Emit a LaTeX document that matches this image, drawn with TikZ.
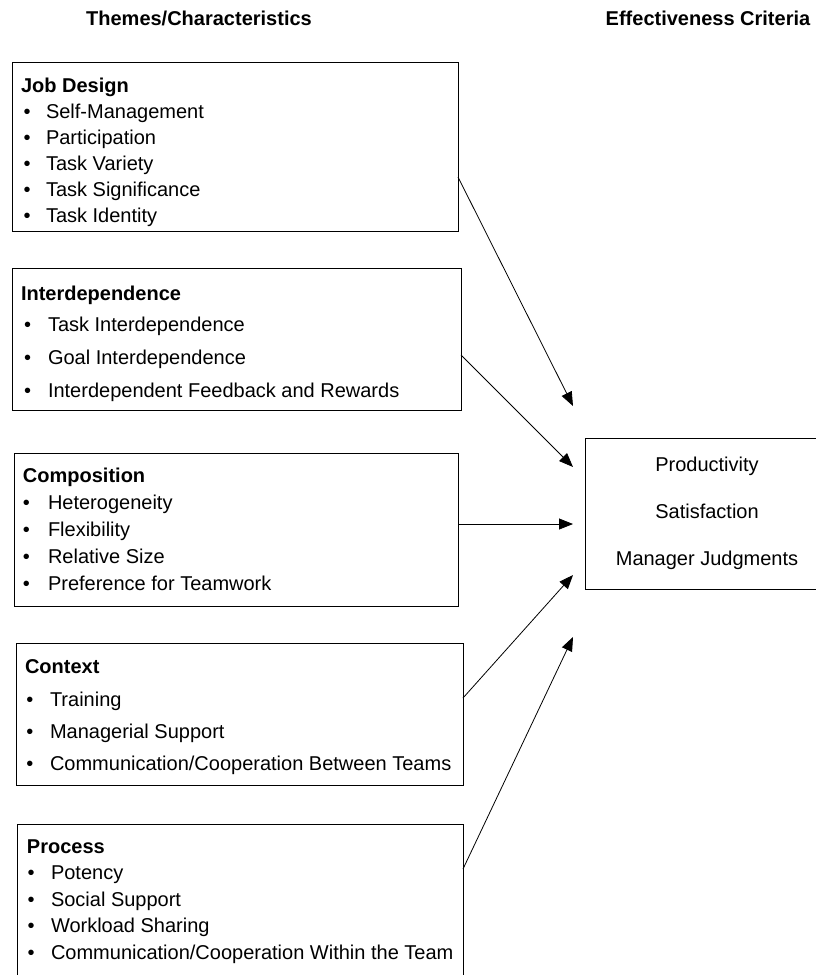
\documentclass[tikz,border=0pt]{standalone}
\usepackage{fontspec}
\setmainfont{Liberation Sans}
\usetikzlibrary{arrows.meta}
\begin{document}
\begin{tikzpicture}[x=1pt,y=-1pt,
  every node/.style={inner sep=0pt, outer sep=0pt},
  txt/.style={anchor=base west, font=\fontsize{20}{24}\selectfont},
  ttl/.style={anchor=base west, font=\fontsize{20}{24}\selectfont\bfseries},
  hdr/.style={anchor=base, font=\fontsize{20}{24}\selectfont\bfseries},
  crit/.style={anchor=base, font=\fontsize{20}{24}\selectfont},
  box/.style={draw, line width=1pt, anchor=north west},
  arr/.style={line width=0.8pt, -{Triangle[length=14pt,width=11pt]}}]
\useasboundingbox (0,0) rectangle (815,975);
\fill[white] (0,0) rectangle (815,975);

% headers
\node[hdr] (h1) at (199,25) {Themes/Characteristics};
\node[hdr] (h2) at (708,25) {Effectiveness Criteria};

% boxes
\node[box, minimum width=446pt, minimum height=169pt] (jd) at (12,62) {};
\node[box, minimum width=449pt, minimum height=142pt] (id) at (12,268) {};
\node[box, minimum width=444pt, minimum height=153pt] (co) at (14,453) {};
\node[box, minimum width=447pt, minimum height=142pt] (cx) at (16,643) {};
\node[box, minimum width=446pt, minimum height=180pt] (pr) at (17,824) {};
\node[box, minimum width=290pt, minimum height=151pt] (ec) at (585,438) {};

% Job Design
\node[ttl] (jdt) at (21,92) {Job Design};
\node[txt] (jdb1) at (23.5,118) {•};
\node[txt] (jd1) at (46,118) {Self-Management};
\node[txt] (jdb2) at (23.5,144) {•};
\node[txt] (jd2) at (46,144) {Participation};
\node[txt] (jdb3) at (23.5,170) {•};
\node[txt] (jd3) at (46,170) {Task Variety};
\node[txt] (jdb4) at (23.5,196) {•};
\node[txt] (jd4) at (46,196) {Task Significance};
\node[txt] (jdb5) at (23.5,222) {•};
\node[txt] (jd5) at (46,222) {Task Identity};

% Interdependence
\node[ttl] (idt) at (21,300) {Interdependence};
\node[txt] (idb1) at (24,331) {•};
\node[txt] (id1) at (48,331) {Task Interdependence};
\node[txt] (idb2) at (24,364) {•};
\node[txt] (id2) at (48,364) {Goal Interdependence};
\node[txt] (idb3) at (24,397) {•};
\node[txt] (id3) at (48,397) {Interdependent Feedback and Rewards};

% Composition
\node[ttl] (cot) at (23,482) {Composition};
\node[txt] (cob1) at (23,509) {•};
\node[txt] (co1) at (48,509) {Heterogeneity};
\node[txt] (cob2) at (23,536) {•};
\node[txt] (co2) at (48,536) {Flexibility};
\node[txt] (cob3) at (23,563) {•};
\node[txt] (co3) at (48,563) {Relative Size};
\node[txt] (cob4) at (23,590) {•};
\node[txt] (co4) at (48,590) {Preference for Teamwork};

% Context
\node[ttl] (cxt) at (25,673) {Context};
\node[txt] (cxb1) at (26.5,706) {•};
\node[txt] (cx1) at (50,706) {Training};
\node[txt] (cxb2) at (26.5,738) {•};
\node[txt] (cx2) at (50,738) {Managerial Support};
\node[txt] (cxb3) at (26.5,770) {•};
\node[txt] (cx3) at (50,770) {Communication/Cooperation Between Teams};

% Process
\node[ttl] (prt) at (27,853) {Process};
\node[txt] (prb1) at (27.5,879) {•};
\node[txt] (pr1) at (51,879) {Potency};
\node[txt] (prb2) at (27.5,906) {•};
\node[txt] (pr2) at (51,906) {Social Support};
\node[txt] (prb3) at (27.5,932) {•};
\node[txt] (pr3) at (51,932) {Workload Sharing};
\node[txt] (prb4) at (27.5,959) {•};
\node[txt] (pr4) at (51,959) {Communication/Cooperation Within the Team};

% Criteria
\node[crit] (c1) at (707,471) {Productivity};
\node[crit] (c2) at (707,518) {Satisfaction};
\node[crit] (c3) at (707,565) {Manager Judgments};

% arrow tips
\coordinate (t1) at (573,406);
\coordinate (t2) at (573,467);
\coordinate (t3) at (573,524);
\coordinate (t4) at (573,575);
\coordinate (t5) at (573,637);

\draw[arr] (jd.east |- 0,177) -- (t1);
\draw[arr] (id.east |- 0,355) -- (t2);
\draw[arr] (co.east |- 0,524) -- (t3);
\draw[arr] (cx.east |- 0,698) -- (t4);
\draw[arr] (pr.east |- 0,869) -- (t5);
\end{tikzpicture}
\end{document}
